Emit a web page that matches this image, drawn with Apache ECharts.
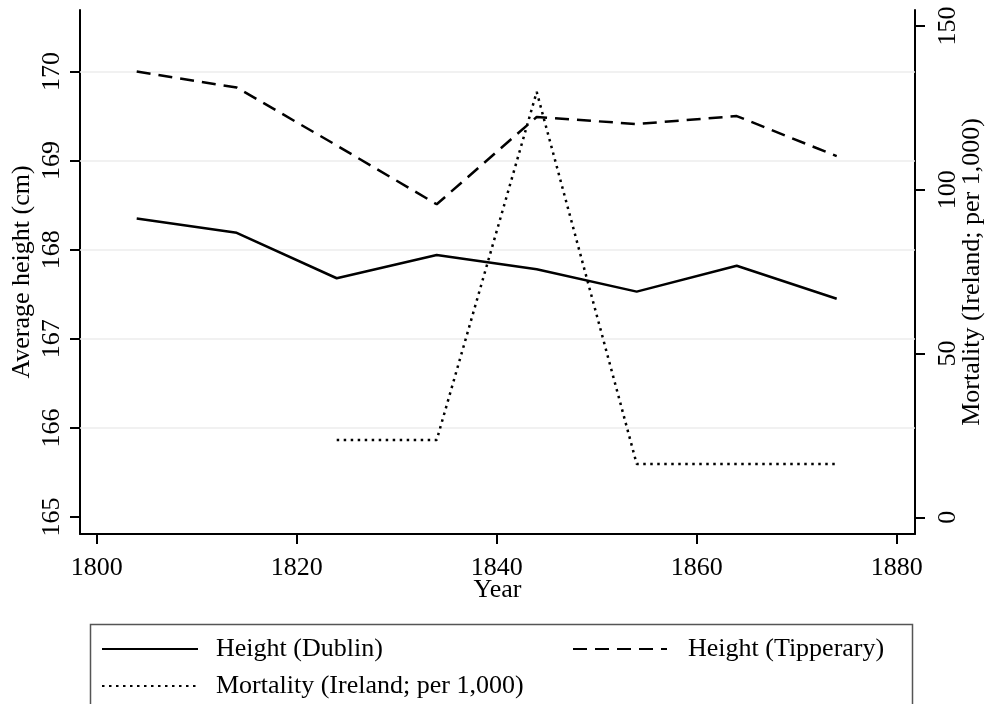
<!DOCTYPE html>
<html>
<head>
<meta charset="utf-8">
<script src="https://cdn.jsdelivr.net/npm/echarts@6/dist/echarts.min.js"></script>
<style>html,body{margin:0;padding:0;background:#fff}#c{width:987px;height:704px}</style>
</head>
<body>
<div id="c"></div>
<script>
const years = [1804, 1814, 1824, 1834, 1844, 1854, 1864, 1874];
const dublin = [168.35, 168.19, 167.68, 167.94, 167.78, 167.53, 167.82, 167.45];
const tipperary = [170.00, 169.82, 169.17, 168.51, 169.49, 169.41, 169.50, 169.05];
const mortality = [null, null, 23.6, 23.6, 129.9, 16.3, 16.3, 16.3];
const xTicks = [1800, 1820, 1840, 1860, 1880];
const leftTicks = [165, 166, 167, 168, 169, 170];
const gridTicks = [166, 167, 168, 169, 170];
const rightTicks = [0, 50, 100, 150];
const names = ['Height (Dublin)', 'Height (Tipperary)', 'Mortality (Ireland; per 1,000)'];

const FONT = 'Liberation Serif';
const FS = 26;
const pair = (xs, ys) => xs.map((x, i) => [x, ys[i]]);

const chart = echarts.init(document.getElementById('c'));
const axisLine = { show: true, onZero: false, lineStyle: { color: '#000', width: 2 } };
const axisTick = { show: true, length: 10, lineStyle: { color: '#000', width: 2 } };
const legTxt = (p) => ({ fontFamily: FONT, fontSize: FS, color: '#000', padding: [0, 0, 0, p] });
chart.setOption({
  backgroundColor: '#fff',
  animation: false,
  grid: { left: 80, right: 72, top: 10, bottom: 170, containLabel: false, outerBoundsMode: 'none' },
  xAxis: {
    type: 'value', min: 1798.33, max: 1881.83,
    axisLine, axisTick: Object.assign({ customValues: xTicks }, axisTick),
    axisLabel: { customValues: xTicks, formatter: v => String(v), fontFamily: FONT, fontSize: FS, color: '#000', margin: 21 },
    splitLine: { show: false },
    name: 'Year', nameLocation: 'middle', nameGap: 43, nameMoveOverlap: false,
    nameTextStyle: { fontFamily: FONT, fontSize: FS, color: '#000' }
  },
  yAxis: [
    {
      type: 'value', min: 164.81, max: 170.69, position: 'left',
      axisLine, axisTick: Object.assign({ customValues: leftTicks }, axisTick),
      axisLabel: { customValues: leftTicks, formatter: v => String(v), rotate: 90, fontFamily: FONT, fontSize: FS, color: '#000', margin: 15, align: 'center', verticalAlign: 'bottom' },
      splitLine: { show: false },
      name: 'Average height (cm)', nameLocation: 'middle', nameGap: 45, nameMoveOverlap: false,
      nameTextStyle: { fontFamily: FONT, fontSize: FS, color: '#000' }
    },
    {
      type: 'value', min: -5.1, max: 154.9, position: 'right',
      axisLine, axisTick: Object.assign({ customValues: rightTicks }, axisTick),
      axisLabel: { customValues: rightTicks, rotate: 90, fontFamily: FONT, fontSize: FS, color: '#000', margin: 20, align: 'center', verticalAlign: 'top' },
      splitLine: { show: false },
      name: 'Mortality (Ireland; per 1,000)', nameLocation: 'middle', nameGap: 44, nameRotate: 90, nameMoveOverlap: false,
      nameTextStyle: { fontFamily: FONT, fontSize: FS, color: '#000' }
    }
  ],
  legend: [
    { data: [names[0]], left: 96, top: 631, itemWidth: 96, itemHeight: 12, itemStyle: { opacity: 0 }, textStyle: legTxt(13) },
    { data: [names[1]], left: 567, top: 631, itemWidth: 94, itemHeight: 12, itemStyle: { opacity: 0 }, textStyle: legTxt(16) },
    { data: [names[2]], left: 96, top: 668, itemWidth: 96, itemHeight: 12, itemStyle: { opacity: 0 }, textStyle: legTxt(13) }
  ],
  graphic: [{
    type: 'rect', left: 88, top: 622, shape: { width: 822, height: 90 },
    style: { fill: 'none', stroke: '#555', lineWidth: 1.5 }, silent: true
  }],
  series: [
    {
      name: names[0], type: 'line', yAxisIndex: 0, data: pair(years, dublin),
      symbol: 'none', lineStyle: { color: '#000', width: 2.5, type: 'solid' }, itemStyle: { color: '#000' },
      z: 5,
      markLine: {
        silent: true, symbol: 'none', label: { show: false },
        lineStyle: { color: '#ececec', width: 1.5, type: 'solid' },
        data: gridTicks.map(v => ({ yAxis: v }))
      }
    },
    {
      name: names[1], type: 'line', yAxisIndex: 0, data: pair(years, tipperary),
      symbol: 'none', lineStyle: { color: '#000', width: 2.5, type: [14, 8] }, itemStyle: { color: '#000' }, z: 5
    },
    {
      name: names[2], type: 'line', yAxisIndex: 1, data: pair(years, mortality),
      symbol: 'none', lineStyle: { color: '#000', width: 2.5, type: [2.5, 4.5] }, itemStyle: { color: '#000' }, z: 5
    }
  ]
});
</script>
</body>
</html>
